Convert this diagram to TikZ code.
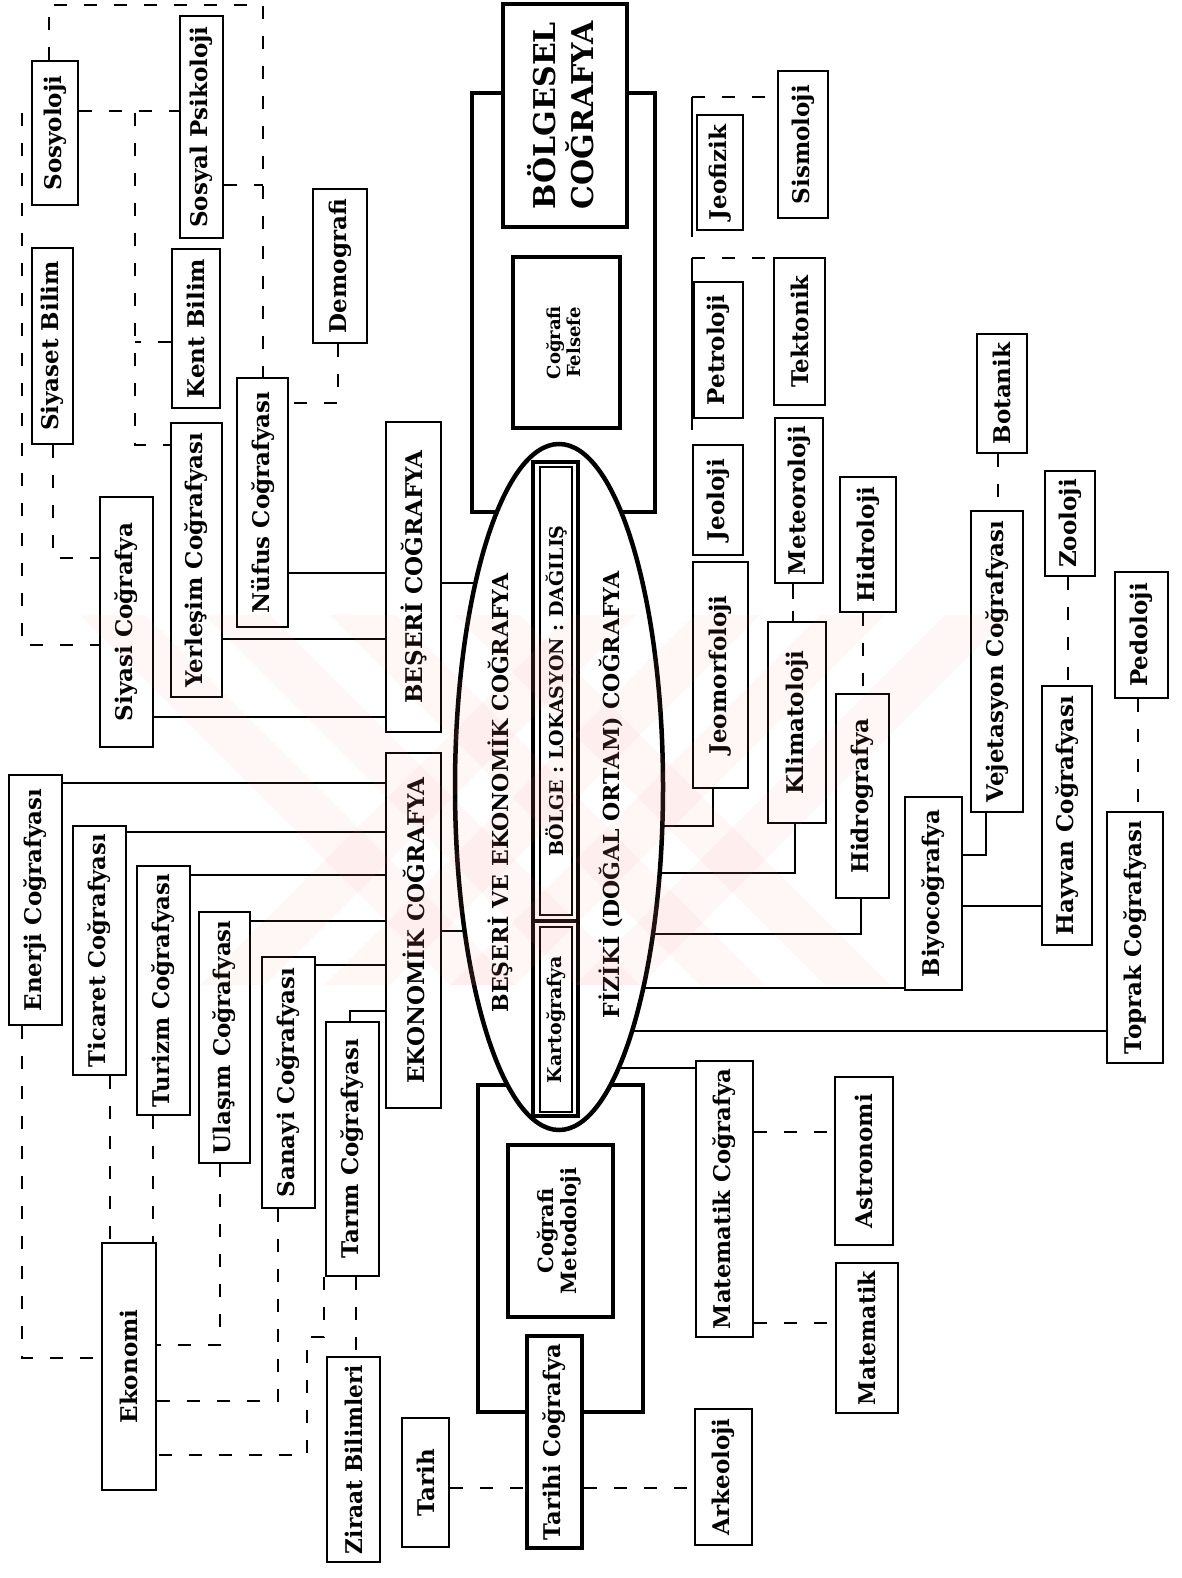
\documentclass[tikz,border=0pt]{standalone}
\usepackage{fontspec}
\setmainfont{DejaVu Serif}
\usetikzlibrary{shapes.geometric,backgrounds}
\newsavebox\fitbox
\newcommand\fitto[2]{\sbox\fitbox{#2}\ifdim\wd\fitbox>#1\relax\resizebox{#1}{\height}{#2}\else\usebox\fitbox\fi}
\newcommand\two[2]{\begin{tabular}{@{}c@{}}#1\\#2\end{tabular}}
\newcommand\Bx[7][bx]{\node[#1,minimum width={#5-#3},minimum height={#6-#4}] (#2) at ({(#3+#5)/2},{(#4+#6)/2}) {\rotatebox{90}{\fitto{\dimexpr #6pt-#4pt-16pt\relax}{#7}}};}
\begin{document}
\begin{tikzpicture}[x=1pt,y=-1pt,
  bx/.style={draw,fill=white,line width=1.8pt,inner sep=0pt,font=\bfseries\fontsize{23}{25}\selectfont},
  tk/.style={bx,line width=4.5pt},
  sm/.style={bx,font=\bfseries\fontsize{19}{21}\selectfont},
  con/.style={line width=1.6pt},
  dsh/.style={line width=2pt,dash pattern=on 13pt off 17pt},
  frame/.style={draw,line width=4.5pt,inner sep=0pt},
  wm/.style={fill=red!45,opacity=0.07}]
\useasboundingbox (0,0) rectangle (1182,1578);
% ---- top left
\Bx{sosyoloji}{32}{61}{78}{205}{Sosyoloji}
\Bx{sospsi}{180}{16}{223}{238}{Sosyal Psikoloji}
\Bx{siyaset}{32}{248}{73}{444}{Siyaset Bilim}
\Bx{kent}{172}{249}{220}{408}{Kent Bilim}
\Bx{demografi}{313}{189}{367}{343}{Demografi}
\Bx{nufus}{237}{378}{288}{627}{Nüfus Coğrafyası}
\Bx{yerlesim}{171}{423}{222}{697}{Yerleşim Coğrafyası}
\Bx{siyasi}{100}{497}{153}{747}{Siyasi Coğrafya}
% ---- bottom left
\Bx{enerji}{9}{775}{62}{1025}{Enerji Coğrafyası}
\Bx{ticaret}{73}{826}{126}{1075}{Ticaret Coğrafyası}
\Bx{turizm}{137}{866}{190}{1115}{Turizm Coğrafyası}
\Bx{ulasim}{199}{912}{250}{1163}{Ulaşım Coğrafyası}
\Bx{sanayi}{262}{957}{315}{1208}{Sanayi Coğrafyası}
\Bx{tarim}{326}{1022}{379}{1276}{Tarım Coğrafyası}
\Bx{ekonomi}{102}{1243}{156}{1490}{Ekonomi}
\Bx{ziraat}{327}{1357}{380}{1562}{Ziraat Bilimleri}
\Bx{tarih}{402}{1418}{449}{1547}{Tarih}
\Bx[tk]{tarihi}{527}{1336}{582}{1548}{Tarihi Coğrafya}
\Bx{arkeoloji}{695}{1409}{752}{1545}{Arkeoloji}
% ---- centre
\Bx{beseri}{386}{422}{441}{732}{BEŞERİ COĞRAFYA}
\Bx{ekonomik}{386}{753}{441}{1108}{EKONOMİK COĞRAFYA}
\Bx[tk,font=\bfseries\fontsize{30}{32}\selectfont]{bolgesel}{503}{4}{627}{227}{\two{BÖLGESEL}{COĞRAFYA}}
\Bx[tk,font=\bfseries\fontsize{18}{20}\selectfont]{felsefe}{513}{257}{620}{428}{\two{Coğrafi}{Felsefe}}
\Bx[tk,font=\bfseries\fontsize{21}{23}\selectfont]{metodoloji}{508}{1145}{613}{1317}{\two{Coğrafi}{Metodoloji}}
\node[draw,ellipse,fill=white,line width=4.5pt,minimum width=208,minimum height=686,inner sep=0pt] (ell) at (559,787) {};
\node[draw,line width=4pt,minimum width=45,minimum height=654,inner sep=0pt] (strip) at (555.5,789) {};
\Bx[sm]{bolge}{540}{467}{572}{915}{BÖLGE : LOKASYON : DAĞILIŞ}
\Bx[sm]{kart}{540}{927}{572}{1112}{Kartoğrafya}
\draw[line width=4pt] (strip.west |- 0,921) -- (strip.east |- 0,921);
\node[font=\bfseries\fontsize{22}{24}\selectfont,inner sep=0pt] (besek) at (500,793) {\rotatebox{90}{\fitto{475pt}{BEŞERİ VE EKONOMİK COĞRAFYA}}};
\node[font=\bfseries\fontsize{22}{24}\selectfont,inner sep=0pt] (fiziki) at (611,795) {\rotatebox{90}{\fitto{455pt}{FİZİKİ (DOĞAL ORTAM) COĞRAFYA}}};
% ---- right
\Bx{jeofizik}{697}{115}{743}{230}{Jeofizik}
\Bx{sismoloji}{778}{71}{828}{218}{Sismoloji}
\Bx{petroloji}{694}{282}{743}{418}{Petroloji}
\Bx{tektonik}{774}{258}{825}{405}{Tektonik}
\Bx{jeoloji}{693}{445}{743}{555}{Jeoloji}
\Bx{jeomorf}{693}{562}{748}{788}{Jeomorfoloji}
\Bx{meteoroloji}{775}{418}{823}{583}{Meteoroloji}
\Bx{klima}{768}{622}{826}{823}{Klimatoloji}
\Bx{hidroloji}{840}{477}{896}{612}{Hidroloji}
\Bx{hidrografya}{836}{694}{889}{898}{Hidrografya}
\Bx{botanik}{977}{334}{1027}{453}{Botanik}
\Bx{vejetasyon}{971}{511}{1023}{812}{Vejetasyon Coğrafyası}
\Bx{zooloji}{1045}{471}{1095}{576}{Zooloji}
\Bx{hayvan}{1042}{686}{1092}{945}{Hayvan Coğrafyası}
\Bx{pedoloji}{1115}{572}{1168}{698}{Pedoloji}
\Bx{toprak}{1107}{812}{1163}{1063}{Toprak Coğrafyası}
\Bx{biyo}{905}{797}{962}{990}{Biyocoğrafya}
\Bx{matcog}{696}{1061}{753}{1337}{Matematik Coğrafya}
\Bx{astronomi}{835}{1077}{893}{1245}{Astronomi}
\Bx{matematik}{836}{1263}{898}{1413}{Matematik}
% faint watermark
\begin{scope}
\clip (80,615) rectangle (1010,985);
\foreach \k in {0,1,2,3}{
  \fill[wm] ({80+\k*125},615) -- ({145+\k*125},615) -- ({515+\k*125},985) -- ({450+\k*125},985) -- cycle;
  \fill[wm] ({1010-\k*125},615) -- ({945-\k*125},615) -- ({575-\k*125},985) -- ({640-\k*125},985) -- cycle;
}
\end{scope}
\begin{pgfonlayer}{background}
\fill[white] (0,0) rectangle (1182,1578);
\node[frame,minimum width=183,minimum height=419] (bframe) at (563.5,302.5) {};
\node[frame,minimum width=165,minimum height=327] (mframe) at (560.5,1248.5) {};
% solid connectors
\draw[con] (nufus.east |- 0,573) -- (beseri.west |- 0,573);
\draw[con] (yerlesim.east |- 0,639) -- (beseri.west |- 0,639);
\draw[con] (siyasi.east |- 0,717) -- (beseri.west |- 0,717);
\draw[con] (beseri.east |- 0,583) -- (ell.center |- 0,583);
\draw[con] (ekonomik.east |- 0,931) -- (ell.center |- 0,931);
\draw[con] (enerji.east |- 0,783) -- (ekonomik.west |- 0,783);
\draw[con] (ticaret.east |- 0,832) -- (ekonomik.west |- 0,832);
\draw[con] (turizm.east |- 0,875) -- (ekonomik.west |- 0,875);
\draw[con] (ulasim.east |- 0,921) -- (ekonomik.west |- 0,921);
\draw[con] (sanayi.east |- 0,965) -- (ekonomik.west |- 0,965);
\draw[con] (350,0 |- tarim.north) -- (350,1011) -- (ekonomik.west |- 0,1011);
\draw[con] (713,0 |- jeomorf.south) -- (713,826) -- (ell.center |- 0,826);
\draw[con] (795,0 |- klima.south) -- (795,873) -- (ell.center |- 0,873);
\draw[con] (861,0 |- hidrografya.south) -- (861,934) -- (ell.center |- 0,934);
\draw[con] (biyo.west |- 0,988) -- (ell.center |- 0,988);
\draw[con] (986,0 |- vejetasyon.south) -- (986,855) -- (biyo.east |- 0,855);
\draw[con] (biyo.east |- 0,906) -- (hayvan.west |- 0,906);
\draw[con] (toprak.west |- 0,1031) -- (ell.center |- 0,1031);
\draw[con] (matcog.west |- 0,1068) -- (ell.center |- 0,1068);
\draw[con,dash pattern=on 15pt off 12pt] (793,0 |- meteoroloji.south) -- (793,0 |- klima.north);
% dashed connectors
\draw[dsh] (863,0 |- hidroloji.south) -- (863,0 |- hidrografya.north);
\draw[dsh] (998,0 |- botanik.south) -- (998,0 |- vejetasyon.north);
\draw[dsh] (1068,0 |- zooloji.south) -- (1068,0 |- hayvan.north);
\draw[dsh] (1138,0 |- pedoloji.south) -- (1138,0 |- toprak.north);
\draw[con] (692,237) -- (692,97);
\draw[dsh] (692,97) -- (sismoloji.west |- 0,97);
\draw[con] (692,430) -- (692,258);
\draw[dsh] (692,258) -- (tektonik.west |- 0,258);
\draw[dsh] (matcog.east |- 0,1132) -- (astronomi.west |- 0,1132);
\draw[dsh] (matcog.east |- 0,1323) -- (matematik.west |- 0,1323);
\draw[dsh] (tarih.east |- 0,1488) -- (tarihi.west |- 0,1488);
\draw[dsh] (tarihi.east |- 0,1488) -- (arkeoloji.west |- 0,1488);
\draw[dsh] (49,0 |- sosyoloji.north) -- (49,5) -- (263,5) -- (263,0 |- nufus.north);
\draw[dsh] (sospsi.east |- 0,185) -- (263,185);
\draw[dsh] (sosyoloji.east |- 0,111) -- (sospsi.west |- 0,111);
\draw[dsh] (135,113) -- (135,445) -- (yerlesim.west |- 0,445);
\draw[dsh] (kent.west |- 0,342) -- (135,342);
\draw[dsh] (22,113) -- (22,645) -- (siyasi.west |- 0,645);
\draw[dsh] (53,0 |- siyaset.south) -- (53,558) -- (siyasi.west |- 0,558);
\draw[dsh] (338,0 |- demografi.south) -- (338,403) -- (nufus.east |- 0,403);
\draw[dsh] (22,0 |- enerji.south) -- (22,1358) -- (ekonomi.west |- 0,1358);
\draw[dsh] (110,0 |- ticaret.south) -- (110,0 |- ekonomi.north);
\draw[dsh] (153,0 |- turizm.south) -- (153,0 |- ekonomi.north);
\draw[dsh] (220,0 |- ulasim.south) -- (220,1345) -- (ekonomi.east |- 0,1345);
\draw[dsh] (278,0 |- sanayi.south) -- (278,1401) -- (ekonomi.east |- 0,1401);
\draw[dsh] (324,0 |- tarim.south) -- (324,1337) -- (307,1337) -- (307,1455) -- (ekonomi.east |- 0,1455);
\draw[dsh] (356,0 |- tarim.south) -- (356,0 |- ziraat.north);
\end{pgfonlayer}
\end{tikzpicture}
\end{document}
